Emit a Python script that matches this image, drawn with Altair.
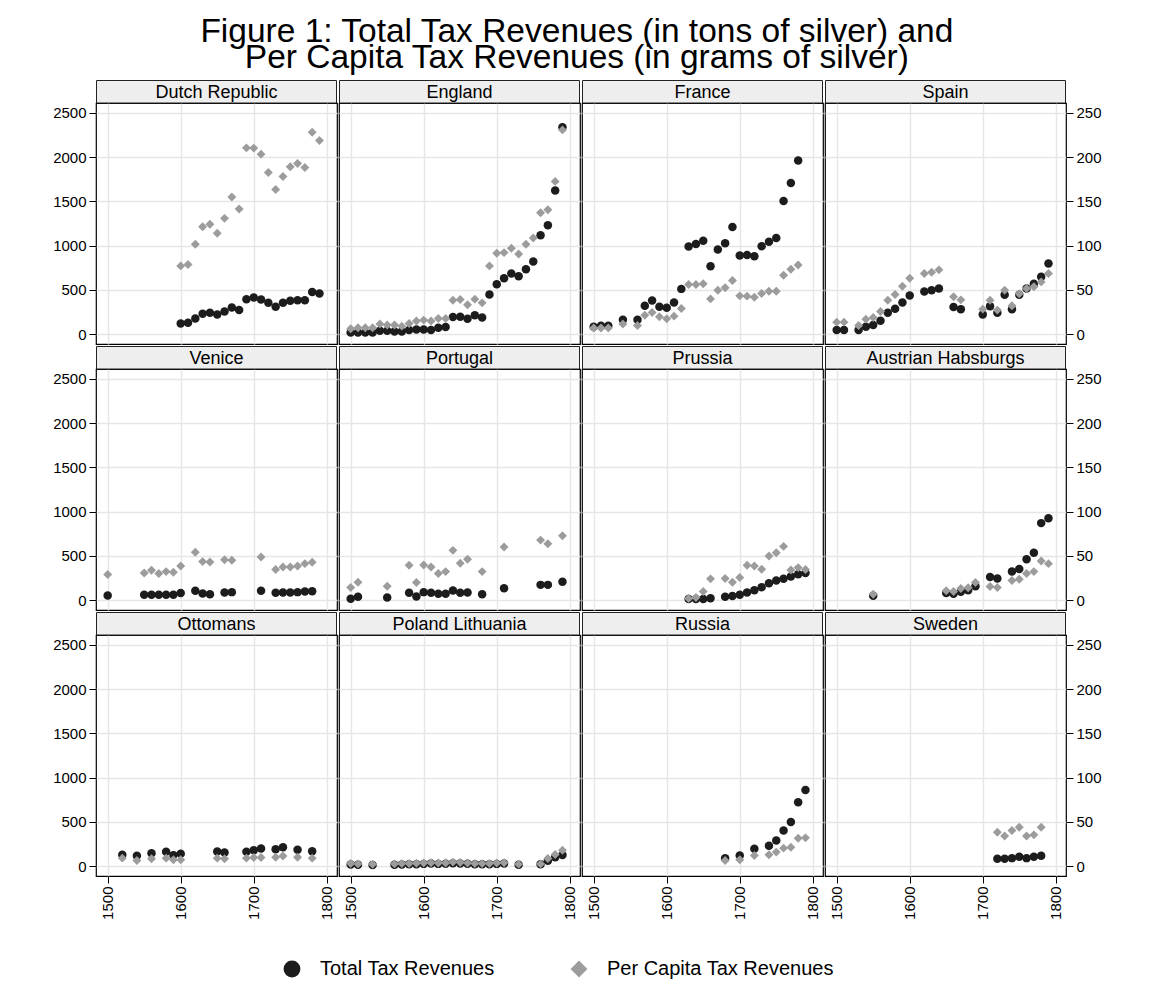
import altair as alt
import pandas as pd

countries = ["Dutch Republic", "England", "France", "Spain",
             "Venice", "Portugal", "Prussia", "Austrian Habsburgs",
             "Ottomans", "Poland Lithuania", "Russia", "Sweden"]

dutch_years = [1600, 1610, 1620, 1630, 1640, 1650, 1660, 1670, 1680, 1690,
               1700, 1710, 1720, 1730, 1740, 1750, 1760, 1770, 1780, 1790]
dutch_total = [120, 128, 177, 229, 241, 222, 256, 301, 271, 395,
               414, 391, 353, 308, 353, 376, 383, 383, 477, 459]
dutch_pc = [77.1, 78.6, 101.5, 121.4, 124.1, 113.9, 130.8, 154.9, 141.4, 210.5,
            210.2, 203.4, 182.7, 163.5, 178.2, 189.1, 192.9, 188.3, 228.2, 218.8]

eng_years = [1500, 1510, 1520, 1530, 1540, 1550, 1560, 1570, 1580, 1590,
             1600, 1610, 1620, 1630, 1640, 1650, 1660, 1670, 1680, 1690,
             1700, 1710, 1720, 1730, 1740, 1750, 1760, 1770, 1780, 1790]
eng_total = [19, 19, 19, 19, 38, 38, 30, 30, 45, 53,
             53, 45, 71, 79, 192, 195, 173, 214, 188, 447,
             564, 632, 684, 654, 733, 820, 1117, 1229, 1624, 2338]
eng_pc = [6.0, 7.1, 7.1, 7.1, 11.3, 10.2, 10.2, 9.0, 12.0, 14.7,
          15.8, 14.7, 17.7, 17.7, 38.3, 39.1, 33.1, 39.5, 35.3, 77.1,
          91.4, 92.1, 97.0, 90.6, 101.5, 108.6, 137.2, 140.6, 172.6, 230.8]

fra_years = [1500, 1510, 1520, 1540, 1560, 1570, 1580, 1590, 1600, 1610,
             1620, 1630, 1640, 1650, 1660, 1670, 1680, 1690, 1700, 1710,
             1720, 1730, 1740, 1750, 1760, 1770, 1780]
fra_total = [83, 94, 94, 162, 162, 320, 380, 308, 297, 357,
             511, 989, 1019, 1056, 767, 955, 1026, 1211, 887, 895,
             880, 992, 1045, 1086, 1504, 1707, 1962]
fra_pc = [6.8, 6.8, 6.8, 11.3, 9.8, 21.4, 24.4, 19.5, 17.3, 20.3,
          29.0, 56.0, 56.0, 56.8, 39.8, 49.6, 52.3, 60.5, 43.2, 42.9,
          41.7, 45.9, 48.5, 48.5, 66.5, 73.3, 78.2]

spa_years = [1500, 1510, 1530, 1540, 1550, 1560, 1570, 1580, 1590, 1600,
             1620, 1630, 1640, 1660, 1670, 1700, 1710, 1720, 1730, 1740,
             1750, 1760, 1770, 1780, 1790]
spa_total = [45, 45, 45, 83, 102, 150, 241, 286, 357, 436,
             481, 496, 515, 305, 282, 222, 316, 241, 444, 282,
             444, 515, 568, 647, 797]
spa_pc = [13.5, 13.5, 9.8, 16.9, 18.8, 25.6, 38.3, 44.7, 54.1, 63.2,
          68.4, 69.9, 72.6, 42.1, 38.7, 28.2, 38.3, 27.1, 49.6, 32.0,
          45.5, 51.5, 53.4, 59.0, 68.4]

ven_years = [1500, 1550, 1560, 1570, 1580, 1590, 1600, 1620, 1630, 1640,
             1660, 1670, 1710, 1730, 1740, 1750, 1760, 1770, 1780]
ven_total = [52, 60, 60, 60, 60, 60, 79, 105, 75, 67,
             86, 90, 105, 82, 86, 86, 90, 97, 101]
ven_pc = [28.9, 30.7, 33.7, 30.0, 32.2, 31.5, 38.6, 54.0, 43.5, 43.1,
          45.7, 45.0, 48.7, 34.5, 37.5, 37.5, 38.6, 41.2, 42.7]

por_years = [1500, 1510, 1550, 1580, 1590, 1600, 1610, 1620, 1630, 1640,
             1650, 1660, 1680, 1710, 1760, 1770, 1790]
por_total = [15, 37, 30, 82, 41, 90, 82, 71, 71, 109,
             82, 86, 67, 135, 172, 172, 206]
por_pc = [14.2, 20.2, 15.7, 39.4, 19.9, 39.7, 37.5, 30.0, 32.2, 56.2,
          41.6, 46.1, 32.2, 60.0, 67.8, 63.7, 72.7]

pru_years = [1630, 1640, 1650, 1660, 1680, 1690, 1700, 1710, 1720, 1730,
             1740, 1750, 1760, 1770, 1780, 1790]
pru_total = [11, 11, 11, 22, 37, 45, 60, 86, 112, 146,
             191, 221, 240, 266, 292, 307]
pru_pc = [1.9, 3.0, 9.7, 24.0, 24.4, 20.2, 25.5, 39.4, 38.6, 34.9,
          49.9, 53.6, 60.7, 34.1, 36.7, 34.5]

aus_years = [1550, 1650, 1660, 1670, 1680, 1690, 1710, 1720, 1740, 1750,
             1760, 1770, 1780, 1790]
aus_total = [49, 79, 71, 94, 112, 157, 262, 244, 322, 352,
             461, 536, 870, 926]
aus_pc = [6.7, 10.5, 9.7, 13.1, 13.9, 19.9, 15.4, 14.2, 22.1, 23.6,
          30.0, 32.2, 44.2, 41.2]

ott_years = [1520, 1540, 1560, 1580, 1590, 1600, 1650, 1660, 1690, 1700,
             1710, 1730, 1740, 1760, 1780]
ott_total = [128, 116, 146, 161, 124, 139, 165, 154, 161, 180,
             199, 191, 214, 184, 169]
ott_pc = [9.0, 6.4, 8.3, 9.0, 7.1, 7.1, 9.0, 8.3, 9.0, 9.8,
          9.8, 10.1, 11.3, 10.1, 9.0]

pol_years = [1500, 1510, 1530, 1560, 1570, 1580, 1590, 1600, 1610, 1620,
             1630, 1640, 1650, 1660, 1670, 1680, 1690, 1700, 1710, 1730,
             1760, 1770, 1780, 1790]
pol_total = [18, 14, 12, 15, 18, 20, 22, 25, 28, 25,
             27, 33, 30, 26, 22, 20, 22, 25, 28, 15,
             20, 60, 100, 125]
pol_pc = [3.0, 2.5, 2.0, 2.5, 2.8, 3.0, 3.2, 3.4, 3.8, 3.4,
          3.6, 4.5, 4.0, 3.5, 3.0, 2.8, 3.0, 3.4, 3.8, 2.2,
          2.5, 8.5, 13.0, 18.0]

rus_years = [1680, 1700, 1720, 1740, 1750, 1760, 1770, 1780, 1790]
rus_total = [90, 120, 195, 229, 289, 402, 499, 721, 860]
rus_pc = [6.4, 7.1, 12.0, 12.8, 15.8, 20.3, 21.4, 31.5, 31.9]

swe_years = [1720, 1730, 1740, 1750, 1760, 1770, 1780]
swe_total = [83, 83, 90, 105, 90, 105, 116]
swe_pc = [38.3, 34.1, 40.2, 43.9, 34.1, 35.3, 43.9]

left_ticks = [0, 500, 1000, 1500, 2000, 2500]
right_ticks = [0, 50, 100, 150, 200, 250]
year_ticks = [1500, 1600, 1700, 1800]
series_names = ["Total Tax Revenues", "Per Capita Tax Revenues"]

series = [
    (dutch_years, dutch_total, dutch_pc), (eng_years, eng_total, eng_pc),
    (fra_years, fra_total, fra_pc), (spa_years, spa_total, spa_pc),
    (ven_years, ven_total, ven_pc), (por_years, por_total, por_pc),
    (pru_years, pru_total, pru_pc), (aus_years, aus_total, aus_pc),
    (ott_years, ott_total, ott_pc), (pol_years, pol_total, pol_pc),
    (rus_years, rus_total, rus_pc), (swe_years, swe_total, swe_pc),
]

rows = []
for name, (ys, tot, pc) in zip(countries, series):
    for y, t, p in zip(ys, tot, pc):
        rows.append({"country": name, "year": y, "total": t, "pc": p,
                     "s1": series_names[0], "s2": series_names[1]})
df = pd.DataFrame(rows)

FONT = "Liberation Sans"
W = 241
H = 241
HDR = 23
GRID = "#E6E6E6"
TICKF = 15

color_scale = alt.Scale(domain=series_names, range=["#1c1c1c", "#9c9c9c"])
shape_scale = alt.Scale(domain=series_names, range=["circle", "diamond"])
leg = alt.Legend(title=None)


def panel(idx):
    name = countries[idx]
    r, c = divmod(idx, 4)
    base = alt.Chart(df).transform_filter(alt.datum.country == name)
    xaxis = alt.Axis(values=year_ticks, grid=True, gridColor=GRID, gridWidth=1.4,
                     labels=(r == 2), ticks=(r == 2), domain=False,
                     labelAngle=270, format="d", title=None, labelFontSize=TICKF,
                     labelFont=FONT, labelColor="#000", tickColor="#000",
                     tickSize=7, labelPadding=3)
    xenc = alt.X("year:Q", scale=alt.Scale(domain=[1484, 1814], nice=False, zero=False),
                 axis=xaxis)
    y1axis = alt.Axis(values=left_ticks, grid=True, gridColor=GRID, gridWidth=1.4,
                      labels=(c == 0), ticks=(c == 0), domain=False, orient="left",
                      format="d", title=None, labelFontSize=TICKF, labelFont=FONT,
                      labelColor="#000", tickColor="#000", tickSize=7, labelPadding=3)
    black = base.mark_point(filled=True, opacity=1, size=72).encode(
        x=xenc,
        y=alt.Y("total:Q", scale=alt.Scale(domain=[-112, 2612], nice=False, zero=False),
                axis=y1axis),
        color=alt.Color("s1:N", scale=color_scale, legend=leg),
        shape=alt.Shape("s1:N", scale=shape_scale, legend=leg),
    )
    if c == 3:
        y2axis = alt.Axis(values=right_ticks, grid=False, orient="right", domain=False,
                          format="d", title=None, labelFontSize=TICKF, labelFont=FONT,
                          labelColor="#000", tickColor="#000", tickSize=7,
                          labelPadding=3)
    else:
        y2axis = None
    grey = base.mark_point(filled=True, opacity=1, size=80).encode(
        x=xenc,
        y=alt.Y("pc:Q", scale=alt.Scale(domain=[-11.2, 261.2], nice=False, zero=False),
                axis=y2axis),
        color=alt.Color("s2:N", scale=color_scale, legend=leg),
        shape=alt.Shape("s2:N", scale=shape_scale, legend=leg),
    )
    hdr_df = pd.DataFrame({"label": [name]})
    rect = alt.Chart(hdr_df).mark_rect(fill="#EEEEEE", stroke="#222", strokeWidth=1).encode(
        x=alt.value(0.5), x2=alt.value(W - 0.5), y=alt.value(-HDR + 0.5), y2=alt.value(0))
    txt = alt.Chart(hdr_df).mark_text(fontSize=18, font=FONT, color="#000",
                                      baseline="middle", align="center").encode(
        x=alt.value(W / 2), y=alt.value(-HDR / 2 + 1), text="label:N")
    return alt.layer(black, grey, rect, txt).resolve_scale(y="independent").properties(
        width=W, height=H)


grid_rows = []
for r in range(3):
    grid_rows.append(alt.hconcat(*[panel(r * 4 + c) for c in range(4)], spacing=0))

chart = alt.vconcat(*grid_rows, spacing=0).properties(
    title=alt.TitleParams(
        ["Figure 1: Total Tax Revenues (in tons of silver) and",
         "Per Capita Tax Revenues (in grams of silver)"],
        fontSize=33.5, font=FONT, fontWeight="normal", anchor="middle",
        lineHeight=26, color="#000", offset=4),
    padding={"left": 44, "top": 6, "right": 20, "bottom": 10},
).configure_view(
    stroke="#000", strokeWidth=1.2
).configure_legend(
    orient="none", legendX=186, legendY=856, direction="horizontal",
    labelFontSize=20, labelFont=FONT, labelColor="#000", symbolSize=283,
    columnPadding=74, labelOffset=18, symbolStrokeWidth=0, labelLimit=400
).configure_axis(
    labelFont=FONT
)

chart.save("out.html", embed_options={"renderer": "svg", "actions": False})
